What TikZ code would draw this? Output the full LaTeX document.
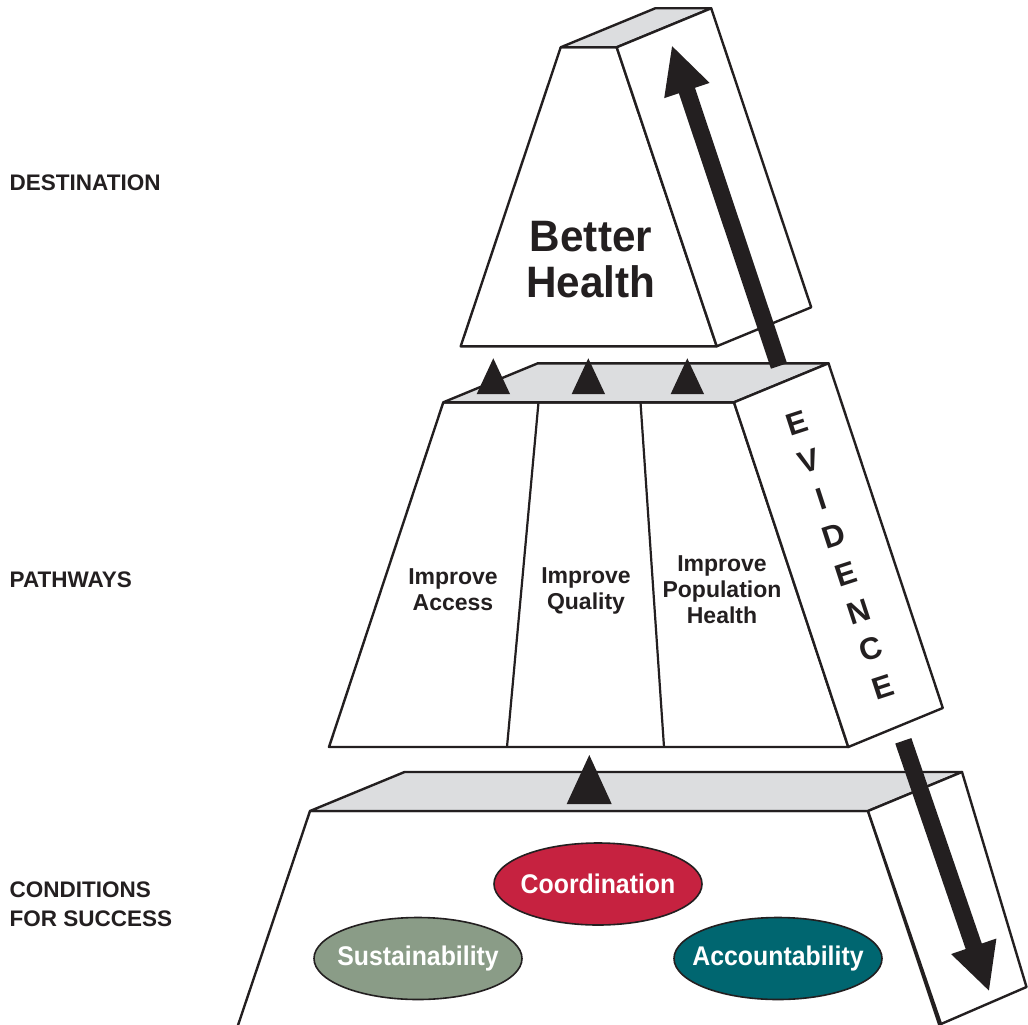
\documentclass[tikz,border=0pt]{standalone}
\usepackage{fontspec}
\setmainfont{Liberation Sans}
\usetikzlibrary{shapes.geometric,arrows.meta,calc}

\definecolor{ink}{HTML}{231F20}
\definecolor{topgray}{HTML}{DCDDDF}
\definecolor{coordred}{HTML}{C62240}
\definecolor{sustgreen}{HTML}{8A9C87}
\definecolor{acctteal}{HTML}{006670}

% horizontally condensed text, in a zero-width box so the oval keeps its set size
\newcommand{\cond}[2][0.92]{\makebox[0pt][c]{\scalebox{#1}[1]{#2}}}

\tikzset{
  face/.style={draw=ink, line width=2.4pt, fill=white, line join=round},
  topface/.style={face, fill=topgray},
  divider/.style={draw=ink, line width=2.2pt},
  bigarrow/.style={draw=ink, line width=17pt, -{Triangle[length=48pt,width=44pt]}},
  marker/.style={fill=ink, draw=none},
  levellabel/.style={anchor=base west, inner sep=0pt, text=ink,
    font=\bfseries\fontsize{22.5}{30}\selectfont},
  pathtext/.style={align=center, inner sep=0pt, text=ink,
    font=\bfseries\fontsize{23}{26}\selectfont},
  goaltext/.style={align=center, inner sep=0pt, text=ink,
    font=\bfseries\fontsize{44}{46}\selectfont},
  oval/.style={ellipse, draw=ink, line width=1.6pt, minimum width=208pt,
    minimum height=82pt, inner sep=0pt, text=white,
    font=\bfseries\fontsize{27}{27}\selectfont},
  letter/.style={inner sep=0pt, rotate=18, text=ink,
    font=\bfseries\fontsize{31}{31}\selectfont},
}

\begin{document}
\begin{tikzpicture}[x=1pt,y=-1pt]
  \useasboundingbox (0,0) rectangle (1028,1025);
  \clip (0,0) rectangle (1028,1025);

  % ---- level labels
  \node[levellabel] (lblDest) at (9.5,190.7) {DESTINATION};
  \node[levellabel] (lblPath) at (9.5,587) {PATHWAYS};
  \node[levellabel] (lblCond1) at (9.5,897.3) {CONDITIONS};
  \node[levellabel] (lblCond2) at (9.5,926.7) {FOR SUCCESS};

  % ---- top block: Better Health
  \path[face] (560.7,47.3) -- (616.7,47.3) -- (716.7,346.3) -- (460.7,346.3) -- cycle;
  \path[topface] (560.7,47.3) -- (616.7,47.3) -- (711.2,8.3) -- (655.2,8.3) -- cycle;
  \path[face] (616.7,47.3) -- (711.2,8.3) -- (811.2,307.3) -- (716.7,346.3) -- cycle;
  \node[goaltext] (goal) at (591,259.5) {\scalebox{0.96}[1]{Better}\\\scalebox{0.96}[1]{Health}};

  % ---- middle block: pathways
  \path[face] (443.3,402.3) -- (734,402.3) -- (848.3,747) -- (329,747) -- cycle;
  \path[topface] (443.3,402.3) -- (734,402.3) -- (828.5,363.3) -- (537.8,363.3) -- cycle;
  \path[face] (734,402.3) -- (828.5,363.3) -- (942.8,708) -- (848.3,747) -- cycle;
  \draw[divider] (538.5,402.3) -- (507,747);
  \draw[divider] (640.5,402.3) -- (664,747);
  \node[pathtext] (pAccess) at (453,590) {Improve\\Access};
  \node[pathtext] (pQuality) at (586,591) {Improve\\Quality};
  \node[pathtext] (pPop) at (722,590) {Improve\\Population\\Health};

  % EVIDENCE, one letter at a time down the side panel
  \foreach \ch [count=\i from 0] in {E,V,I,D,E,N,C,E}{
    \node[letter] (ev\i) at ({797+12.33*\i},{423.5+37.63*\i}) {\ch};
  }

  % ---- bottom block: conditions for success
  \path[face] (310,811) -- (868,811) -- (941,1030) -- (236.4,1030) -- cycle;
  \path[topface] (310,811) -- (868,811) -- (962,772) -- (404.5,772) -- cycle;
  \path[face] (868,811) -- (962,772) -- (1026.5,987) -- (941,1024) -- cycle;

  \node[oval, fill=coordred] (coord) at (598,884) {\cond{Coordination}};
  \node[oval, fill=sustgreen] (sust) at (418,958.5) {\cond{Sustainability}};
  \node[oval, fill=acctteal] (acct) at (778,958.5) {\cond{Accountability}};

  % ---- upward markers on the top faces
  \path[marker] (493.3,358.3) -- (510,394) -- (476.7,394) -- cycle;
  \path[marker] (588.3,358.3) -- (605,394) -- (571.7,394) -- cycle;
  \path[marker] (687.3,358.3) -- (704,394) -- (670.7,394) -- cycle;
  \path[marker] (589.3,755) -- (611.7,804) -- (566.7,804) -- cycle;

  % ---- evidence arrows
  \coordinate (upFrom) at (779,366);
  \coordinate (upTo) at (671.7,45);
  \coordinate (downFrom) at (903.3,740.8);
  \coordinate (downTo) at (989.3,991.7);
  \draw[bigarrow] (upFrom) -- (upTo);
  \draw[bigarrow] (downFrom) -- (downTo);
\end{tikzpicture}
\end{document}
